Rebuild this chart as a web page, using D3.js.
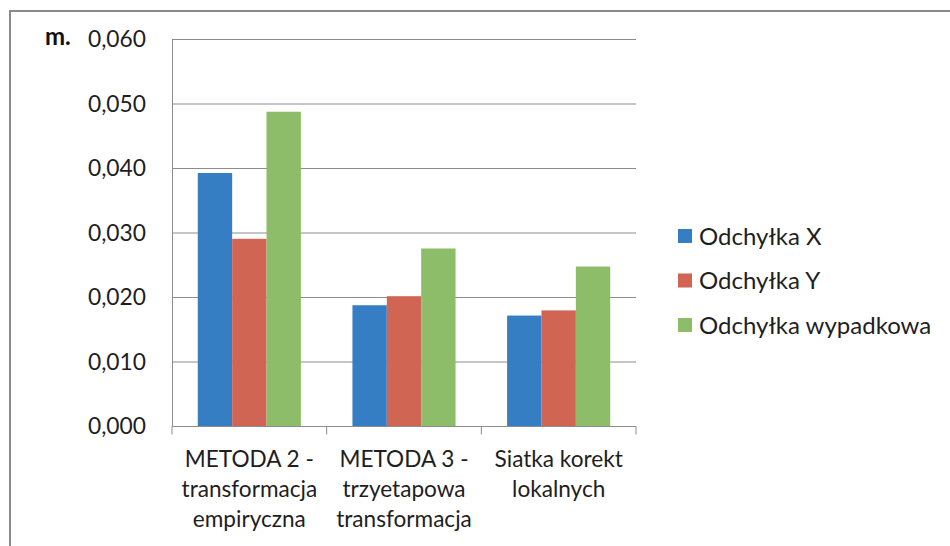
<!DOCTYPE html>
<html>
<head>
<meta charset="utf-8">
<script src="https://cdn.jsdelivr.net/npm/d3@7"></script>
<style>
  body { margin: 0; background: #fff; }
  svg { display: block; font-family: Lato, "Open Sans", sans-serif; }
</style>
</head>
<body>
<div id="chart"></div>
<script>
// dane
const categories = [
    ["METODA 2 -", "transformacja", "empiryczna"],
    ["METODA 3 -", "trzyetapowa", "transformacja"],
    ["Siatka korekt", "lokalnych"]
];
const seriesNames = ["Odchyłka X", "Odchyłka Y", "Odchyłka wypadkowa"];
const odchylkaX = [0.0393, 0.0188, 0.0172];
const odchylkaY = [0.0291, 0.0202, 0.0180];
const odchylkaW = [0.0488, 0.0276, 0.0248];
const yTicks = [0, 0.01, 0.02, 0.03, 0.04, 0.05, 0.06];

const colors = ["#357ec3", "#d06553", "#8dbd68"];
const seriesValues = [odchylkaX, odchylkaY, odchylkaW];

const width = 950, height = 546;
const margin = {top: 39.5, right: 314, bottom: 119.5, left: 172};

const svg = d3.select("#chart").append("svg")
    .attr("width", width)
    .attr("height", height);

// ramka wykresu
svg.append("rect")
    .attr("x", 10).attr("y", 11)
    .attr("width", 1000).attr("height", 600)
    .attr("fill", "none")
    .attr("stroke", "#8a8a8a")
    .attr("stroke-width", 2);

// skale
const x0 = d3.scaleBand()
    .domain(d3.range(categories.length))
    .range([margin.left, width - margin.right]);
const bw = x0.bandwidth();
const barW = bw / 4.5;
const x1 = d3.scaleBand()
    .domain(d3.range(seriesNames.length))
    .range([barW * 0.75, bw - barW * 0.75]);
const y = d3.scaleLinear()
    .domain([0, 0.06])
    .range([height - margin.bottom, margin.top]);

// linie siatki
svg.append("g")
    .selectAll("line")
    .data(yTicks.slice(1))
    .enter().append("line")
    .attr("x1", margin.left)
    .attr("x2", width - margin.right)
    .attr("y1", d => y(d))
    .attr("y2", d => y(d))
    .attr("stroke", "#8c8c8c")
    .attr("stroke-width", 1);

// słupki
const groups = svg.append("g")
    .selectAll("g")
    .data(categories.map((c, i) => i))
    .enter().append("g")
    .attr("transform", i => `translate(${x0(i)},0)`);

groups.selectAll("rect")
    .data(i => seriesValues.map((s, k) => ({k: k, v: s[i]})))
    .enter().append("rect")
    .attr("x", d => x1(d.k))
    .attr("width", x1.bandwidth())
    .attr("y", d => y(d.v))
    .attr("height", d => y(0) - y(d.v))
    .attr("fill", d => colors[d.k]);

// oś Y
const yAxis = d3.axisLeft(y)
    .tickValues(yTicks)
    .tickSize(0)
    .tickPadding(26)
    .tickFormat(d => d3.format(".3f")(d).replace(".", ","));

const gy = svg.append("g")
    .attr("transform", `translate(${margin.left},0)`)
    .call(yAxis);
gy.select(".domain").attr("stroke", "#8c8c8c");
gy.selectAll("text")
    .attr("font-size", "22.8px")
    .attr("fill", "#1e1e1e")
    .attr("font-family", "Lato");

// jednostka
svg.append("text")
    .attr("x", 45)
    .attr("y", 44.5)
    .attr("font-size", "24px")
    .attr("font-weight", "bold")
    .attr("fill", "#111")
    .text("m.");

// oś X
const gx = svg.append("g");
gx.append("line")
    .attr("x1", margin.left)
    .attr("x2", width - margin.right)
    .attr("y1", y(0))
    .attr("y2", y(0))
    .attr("stroke", "#8c8c8c");
gx.selectAll(".tick")
    .data(d3.range(categories.length + 1))
    .enter().append("line")
    .attr("x1", i => margin.left + i * bw)
    .attr("x2", i => margin.left + i * bw)
    .attr("y1", y(0))
    .attr("y2", y(0) + 8)
    .attr("stroke", "#8c8c8c");

// etykiety kategorii
const labels = svg.append("g")
    .selectAll("text")
    .data(categories)
    .enter().append("text")
    .attr("text-anchor", "middle")
    .attr("font-size", "22.6px")
    .attr("fill", "#1e1e1e")
    .attr("transform", (d, i) => `translate(${x0(i) + bw / 2},466.5)`);

labels.selectAll("tspan")
    .data(d => d)
    .enter().append("tspan")
    .attr("x", 0)
    .attr("y", (d, j) => j * 30)
    .text(d => d);

// legenda
const legend = svg.append("g")
    .selectAll("g")
    .data(seriesNames)
    .enter().append("g")
    .attr("transform", (d, i) => `translate(678,${236 + i * 44.5})`);

legend.append("rect")
    .attr("x", 0)
    .attr("y", -7)
    .attr("width", 14)
    .attr("height", 14)
    .attr("fill", (d, i) => colors[i]);

legend.append("text")
    .attr("x", 21)
    .attr("y", 8.5)
    .attr("font-size", "24px")
    .attr("fill", "#1e1e1e")
    .text(d => d);
</script>
</body>
</html>
